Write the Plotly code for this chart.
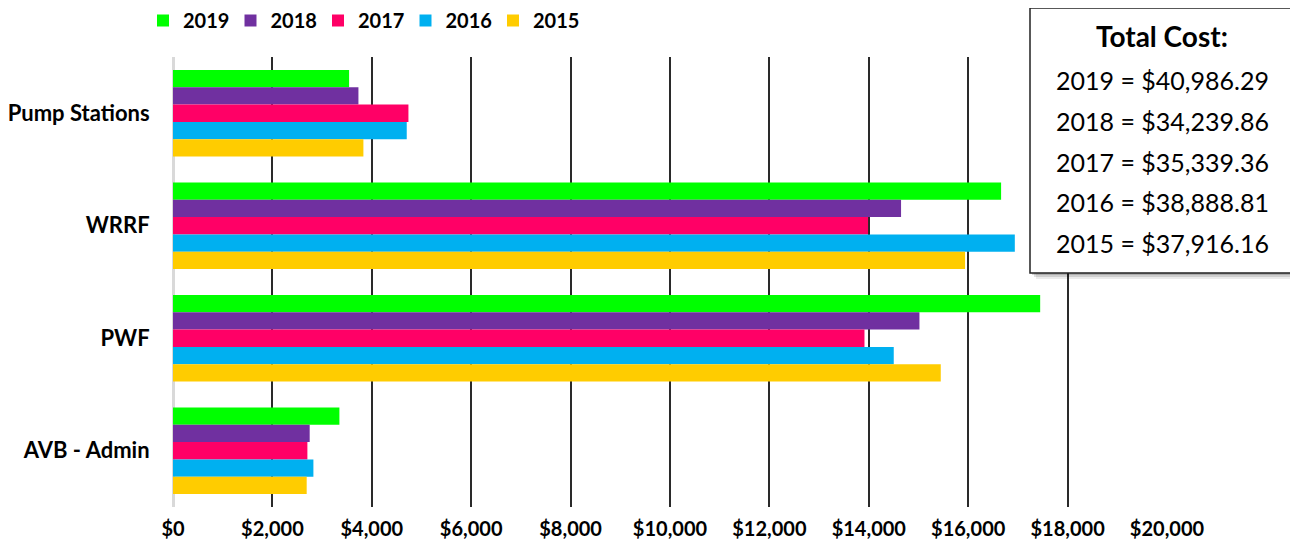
import plotly.graph_objects as go

categories = ["Pump Stations", "WRRF", "PWF", "AVB - Admin"]
years = ["2019", "2018", "2017", "2016", "2015"]
values = {
    "2019": [3543, 16662, 17448, 3348],
    "2018": [3731, 14649, 15019, 2750],
    "2017": [4737, 13985, 13913, 2704],
    "2016": [4703, 16938, 14502, 2825],
    "2015": [3831, 15937, 15448, 2690],
}
colors = {
    "2019": "#00FF00",
    "2018": "#7030A0",
    "2017": "#FF0066",
    "2016": "#00B0F0",
    "2015": "#FFCC00",
}
tick_vals = [0, 2000, 4000, 6000, 8000, 10000, 12000, 14000, 16000, 18000, 20000]
tick_text = ["$0", "$2,000", "$4,000", "$6,000", "$8,000", "$10,000", "$12,000",
             "$14,000", "$16,000", "$18,000", "$20,000"]
total_title = "Total Cost:"
total_lines = ["2019 = $40,986.29", "2018 = $34,239.86", "2017 = $35,339.36",
               "2016 = $38,888.81", "2015 = $37,916.16"]

FONT = "Lato"

fig = go.Figure()
for y in years:
    fig.add_trace(go.Bar(
        y=categories, x=values[y], name=y, orientation="h",
        marker=dict(color=colors[y], line=dict(width=0)),
    ))

# page body has an 8px default margin; work in page pixel coordinates
OFF = 8
W, H = 1298 - OFF, 550 - OFF
L, R, T, B = 173 - OFF, 131, 57 - OFF, 43
pw, ph = W - L - R, H - T - B

def px_x(x):
    return (x - OFF - L) / pw

def px_y(y):
    return (H - B - (y - OFF)) / ph

fig.update_layout(
    width=W, height=H,
    margin=dict(l=L, r=R, t=T, b=B, pad=0, autoexpand=False),
    paper_bgcolor="white", plot_bgcolor="white",
    barmode="group", bargap=0.23, bargroupgap=0,
    font=dict(family=FONT, color="black"),
    showlegend=True,
    legend=dict(
        orientation="h", x=px_x(143), y=px_y(1), xanchor="left", yanchor="top",
        font=dict(family=FONT, size=20, color="black", weight="bold"),
        itemwidth=30, traceorder="normal", bgcolor="rgba(0,0,0,0)",
        entrywidth=42.5, entrywidthmode="pixels",
    ),
    xaxis=dict(
        range=[0, 20000], tickvals=tick_vals, ticktext=tick_text,
        showgrid=True, gridcolor="#2a2a2a", gridwidth=1.5,
        zeroline=True, zerolinecolor="#d9d9d9", zerolinewidth=3,
        showline=False,
        ticks="outside", ticklen=4, tickcolor="rgba(0,0,0,0)",
        tickfont=dict(family=FONT, size=20, color="black", weight="bold"),
        fixedrange=True,
    ),
    yaxis=dict(
        autorange="reversed", showgrid=False, zeroline=False, showline=False,
        ticks="outside", ticklen=18, tickcolor="rgba(0,0,0,0)",
        tickfont=dict(family=FONT, size=22, color="black", weight="bold"),
        fixedrange=True,
    ),
)

# Total cost box with soft shadow
bx0, bx1, by0, by1 = 1030, 1293, 8, 273
for i, op in enumerate([0.08, 0.12, 0.16]):
    off = 6 - 2 * i
    fig.add_shape(type="rect", xref="paper", yref="paper",
                  x0=px_x(bx0 + off), x1=px_x(bx1 + off),
                  y0=px_y(by1 + off), y1=px_y(by0 + off),
                  fillcolor=f"rgba(0,0,0,{op})", line=dict(width=0), layer="above")
fig.add_shape(type="rect", xref="paper", yref="paper",
              x0=px_x(bx0), x1=px_x(bx1), y0=px_y(by1), y1=px_y(by0),
              fillcolor="white", line=dict(color="#222", width=1.5), layer="above")

cx = px_x(1162)
fig.add_annotation(x=cx, y=px_y(36), xref="paper", yref="paper", text=total_title,
                   showarrow=False, xanchor="center", yanchor="middle",
                   font=dict(family=FONT, size=28, color="black", weight="bold"))
line_ys = [80, 121, 162, 202, 243]
for t, yy in zip(total_lines, line_ys):
    fig.add_annotation(x=cx, y=px_y(yy), xref="paper", yref="paper", text=t,
                       showarrow=False, xanchor="center", yanchor="middle",
                       font=dict(family=FONT, size=25, color="black"))

fig.write_html("out.html")
